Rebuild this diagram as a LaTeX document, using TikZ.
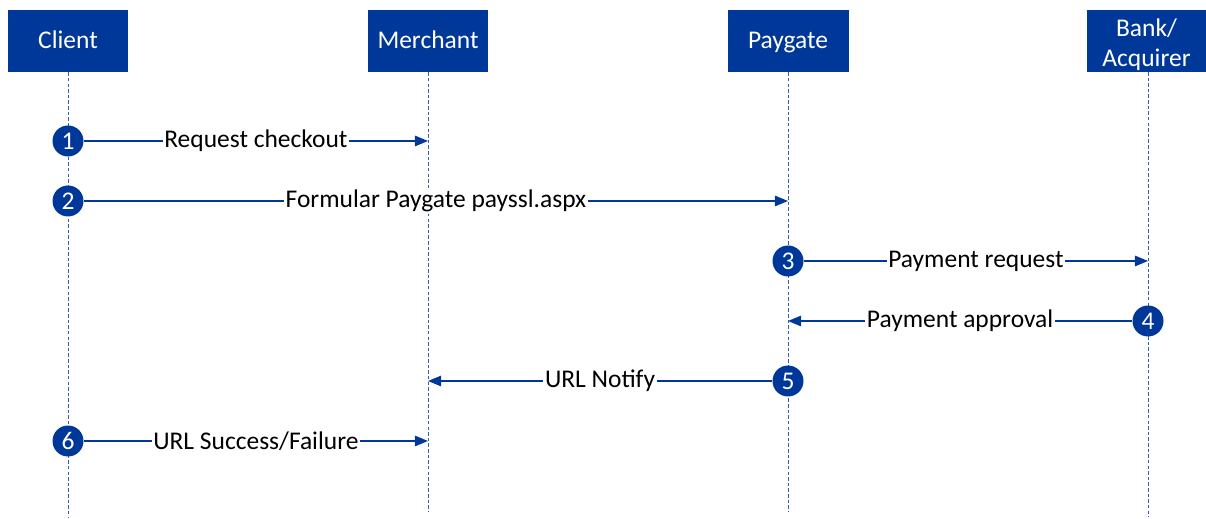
\documentclass[tikz,border=0pt]{standalone}
\usepackage{fontspec}
\setmainfont{Carlito}
\usetikzlibrary{arrows.meta}
\definecolor{pgblue}{RGB}{0,56,153}
\begin{document}
\begin{tikzpicture}[x=0.02cm,y=-0.02cm,>={Triangle[length=7.5pt,width=6pt]},
    actor/.style={fill=pgblue,text=white,minimum width=2.42cm,minimum height=1.24cm,
      inner sep=1pt,align=center,font=\fontsize{14.5}{17}\selectfont,
      execute at begin node={\rule[-0.25em]{0pt}{1.12em}}},
    actortext/.style={text=white,inner sep=0pt,align=center,font=\fontsize{14.5}{17}\selectfont},
    life/.style={pgblue!80,line width=0.5pt,dash pattern=on 2pt off 1.2pt},
    stepno/.style={circle,fill=pgblue,text=white,minimum size=0.62cm,inner sep=0pt,
      font=\fontsize{14.5}{14}\selectfont},
    msg/.style={pgblue,line width=0.8pt},
    lbl/.style={fill=white,text=black,inner sep=1pt,font=\fontsize{14.5}{15}\selectfont}]
    \useasboundingbox (0,0) rectangle (1206,519);
    % actors
    \node [actor] (client)   at (68,41)   {Client};
    \node [actor] (merchant) at (428,41)  {Merchant};
    \node [actor] (paygate)  at (788,41)  {Paygate};
    \node [actor, minimum width=2.38cm] (bank) at (1146.5,41) {};
    \node [actortext] (bankT) at (1146.5,45) {Bank/\\Acquirer};
    % lifelines
    \coordinate (clientE)   at (68,517);
    \coordinate (merchantE) at (428,511);
    \coordinate (paygateE)  at (788,511);
    \coordinate (bankE)     at (1148,517);
    \draw [life] (client.south) -- (clientE);
    \draw [life] (merchant.south) -- (merchantE);
    \draw [life] (paygate.south) -- (paygateE);
    \draw [life] (1148,72) -- (bankE);
    % steps
    \node [stepno] (s1) at (68,141)   {1};
    \node [stepno] (s2) at (68,201)   {2};
    \node [stepno] (s3) at (788,261)  {3};
    \node [stepno] (s4) at (1148,321) {4};
    \node [stepno] (s5) at (788,381)  {5};
    \node [stepno] (s6) at (68,441)   {6};
    \coordinate (m1) at (428,141);
    \coordinate (p2) at (788,201);
    \coordinate (b3) at (1148,261);
    \coordinate (p4) at (788,321);
    \coordinate (m5) at (428,381);
    \coordinate (m6) at (428,441);
    % messages
    \draw [msg, ->] (s1) -- node [lbl] {Request checkout} (m1);
    \draw [msg, ->] (s2) -- node [lbl] {Formular Paygate payssl.aspx} (p2);
    \draw [msg, ->] (s3) -- node [lbl] {Payment request} (b3);
    \draw [msg, ->] (s4) -- node [lbl] {Payment approval} (p4);
    \draw [msg, ->] (s5) -- node [lbl] {URL Notify} (m5);
    \draw [msg, ->] (s6) -- node [lbl] {URL Success/Failure} (m6);
\end{tikzpicture}
\end{document}
